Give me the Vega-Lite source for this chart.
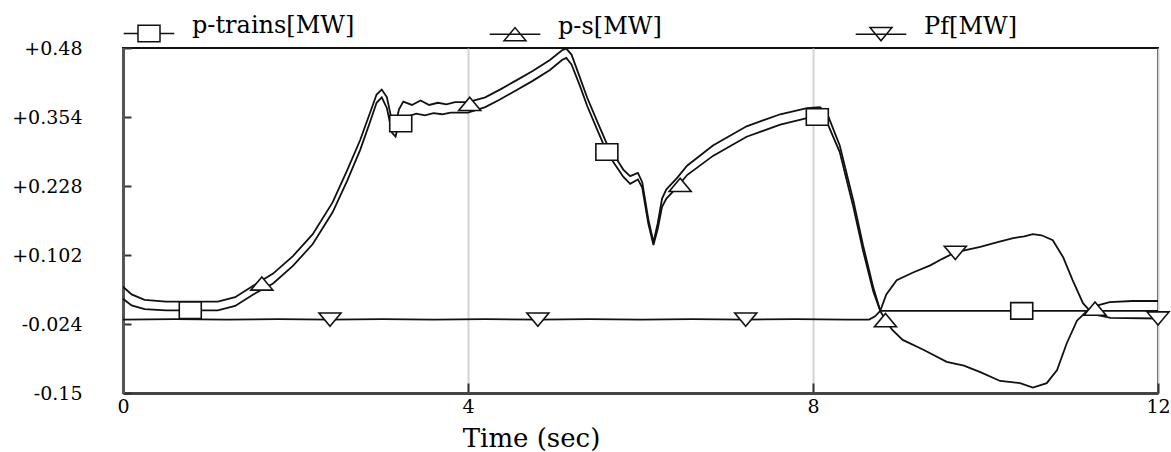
{
  "$schema": "https://vega.github.io/schema/vega-lite/v6.json",
  "width": 1035,
  "height": 345,
  "autosize": "none",
  "padding": {"left": 123, "top": 48, "right": 13, "bottom": 59},
  "background": "white",
  "config": {
    "view": {"stroke": "#111", "strokeWidth": 2},
    "axis": {"labelFont": "DejaVu Serif", "titleFont": "DejaVu Serif", "labelColor": "black", "titleColor": "black", "titleFontWeight": "normal", "gridColor": "#d4d4d4", "gridWidth": 2}
  },
  "datasets": {
    "lines": [
      {"s": "p-trains[MW]", "t": 0, "v": 0.022},
      {"s": "p-trains[MW]", "t": 0.1, "v": 0.01},
      {"s": "p-trains[MW]", "t": 0.25, "v": 0.003},
      {"s": "p-trains[MW]", "t": 0.5, "v": 0.001},
      {"s": "p-trains[MW]", "t": 1.1, "v": 0.001},
      {"s": "p-trains[MW]", "t": 1.3, "v": 0.009},
      {"s": "p-trains[MW]", "t": 1.51, "v": 0.03},
      {"s": "p-trains[MW]", "t": 1.74, "v": 0.05},
      {"s": "p-trains[MW]", "t": 1.97, "v": 0.082},
      {"s": "p-trains[MW]", "t": 2.2, "v": 0.122},
      {"s": "p-trains[MW]", "t": 2.43, "v": 0.18},
      {"s": "p-trains[MW]", "t": 2.6, "v": 0.238},
      {"s": "p-trains[MW]", "t": 2.75, "v": 0.294},
      {"s": "p-trains[MW]", "t": 2.86, "v": 0.343},
      {"s": "p-trains[MW]", "t": 2.94, "v": 0.38},
      {"s": "p-trains[MW]", "t": 3.0, "v": 0.39},
      {"s": "p-trains[MW]", "t": 3.06, "v": 0.37},
      {"s": "p-trains[MW]", "t": 3.12, "v": 0.325},
      {"s": "p-trains[MW]", "t": 3.16, "v": 0.318},
      {"s": "p-trains[MW]", "t": 3.2, "v": 0.345},
      {"s": "p-trains[MW]", "t": 3.3, "v": 0.355},
      {"s": "p-trains[MW]", "t": 3.4, "v": 0.36},
      {"s": "p-trains[MW]", "t": 3.5, "v": 0.357},
      {"s": "p-trains[MW]", "t": 3.6, "v": 0.361},
      {"s": "p-trains[MW]", "t": 3.7, "v": 0.359},
      {"s": "p-trains[MW]", "t": 3.8, "v": 0.362},
      {"s": "p-trains[MW]", "t": 4.0, "v": 0.362},
      {"s": "p-trains[MW]", "t": 4.2, "v": 0.372},
      {"s": "p-trains[MW]", "t": 4.37, "v": 0.386},
      {"s": "p-trains[MW]", "t": 4.55, "v": 0.402},
      {"s": "p-trains[MW]", "t": 4.75, "v": 0.42},
      {"s": "p-trains[MW]", "t": 4.95, "v": 0.44},
      {"s": "p-trains[MW]", "t": 5.09, "v": 0.458},
      {"s": "p-trains[MW]", "t": 5.14, "v": 0.462},
      {"s": "p-trains[MW]", "t": 5.2, "v": 0.45},
      {"s": "p-trains[MW]", "t": 5.3, "v": 0.41},
      {"s": "p-trains[MW]", "t": 5.38, "v": 0.375},
      {"s": "p-trains[MW]", "t": 5.5, "v": 0.33},
      {"s": "p-trains[MW]", "t": 5.61, "v": 0.29},
      {"s": "p-trains[MW]", "t": 5.7, "v": 0.268},
      {"s": "p-trains[MW]", "t": 5.8, "v": 0.245},
      {"s": "p-trains[MW]", "t": 5.88, "v": 0.232},
      {"s": "p-trains[MW]", "t": 5.97, "v": 0.24},
      {"s": "p-trains[MW]", "t": 6.02, "v": 0.225},
      {"s": "p-trains[MW]", "t": 6.09, "v": 0.16},
      {"s": "p-trains[MW]", "t": 6.15, "v": 0.12},
      {"s": "p-trains[MW]", "t": 6.2, "v": 0.15},
      {"s": "p-trains[MW]", "t": 6.25, "v": 0.19},
      {"s": "p-trains[MW]", "t": 6.3, "v": 0.205},
      {"s": "p-trains[MW]", "t": 6.42, "v": 0.225},
      {"s": "p-trains[MW]", "t": 6.54, "v": 0.248},
      {"s": "p-trains[MW]", "t": 6.84, "v": 0.283},
      {"s": "p-trains[MW]", "t": 7.23, "v": 0.318},
      {"s": "p-trains[MW]", "t": 7.62, "v": 0.34},
      {"s": "p-trains[MW]", "t": 7.93, "v": 0.352},
      {"s": "p-trains[MW]", "t": 8.08, "v": 0.354},
      {"s": "p-trains[MW]", "t": 8.16, "v": 0.345},
      {"s": "p-trains[MW]", "t": 8.31, "v": 0.29},
      {"s": "p-trains[MW]", "t": 8.47, "v": 0.188},
      {"s": "p-trains[MW]", "t": 8.58, "v": 0.11},
      {"s": "p-trains[MW]", "t": 8.7, "v": 0.035},
      {"s": "p-trains[MW]", "t": 8.78, "v": 0.0},
      {"s": "p-trains[MW]", "t": 10, "v": 0.0},
      {"s": "p-trains[MW]", "t": 12, "v": 0.0},

      {"s": "p-s[MW]", "t": 0, "v": 0.044},
      {"s": "p-s[MW]", "t": 0.1, "v": 0.03},
      {"s": "p-s[MW]", "t": 0.25, "v": 0.02},
      {"s": "p-s[MW]", "t": 0.5, "v": 0.017},
      {"s": "p-s[MW]", "t": 1.1, "v": 0.017},
      {"s": "p-s[MW]", "t": 1.3, "v": 0.025},
      {"s": "p-s[MW]", "t": 1.51, "v": 0.046},
      {"s": "p-s[MW]", "t": 1.74, "v": 0.068},
      {"s": "p-s[MW]", "t": 1.97, "v": 0.1},
      {"s": "p-s[MW]", "t": 2.2, "v": 0.14},
      {"s": "p-s[MW]", "t": 2.43, "v": 0.198},
      {"s": "p-s[MW]", "t": 2.6, "v": 0.257},
      {"s": "p-s[MW]", "t": 2.75, "v": 0.312},
      {"s": "p-s[MW]", "t": 2.86, "v": 0.36},
      {"s": "p-s[MW]", "t": 2.94, "v": 0.395},
      {"s": "p-s[MW]", "t": 3.0, "v": 0.404},
      {"s": "p-s[MW]", "t": 3.06, "v": 0.39},
      {"s": "p-s[MW]", "t": 3.12, "v": 0.345},
      {"s": "p-s[MW]", "t": 3.16, "v": 0.34},
      {"s": "p-s[MW]", "t": 3.2, "v": 0.368},
      {"s": "p-s[MW]", "t": 3.25, "v": 0.382},
      {"s": "p-s[MW]", "t": 3.35, "v": 0.376},
      {"s": "p-s[MW]", "t": 3.45, "v": 0.384},
      {"s": "p-s[MW]", "t": 3.55, "v": 0.376},
      {"s": "p-s[MW]", "t": 3.65, "v": 0.38},
      {"s": "p-s[MW]", "t": 3.75, "v": 0.377},
      {"s": "p-s[MW]", "t": 3.85, "v": 0.381},
      {"s": "p-s[MW]", "t": 4.0, "v": 0.381},
      {"s": "p-s[MW]", "t": 4.2, "v": 0.39},
      {"s": "p-s[MW]", "t": 4.37, "v": 0.404},
      {"s": "p-s[MW]", "t": 4.55, "v": 0.42},
      {"s": "p-s[MW]", "t": 4.75, "v": 0.438},
      {"s": "p-s[MW]", "t": 4.95, "v": 0.458},
      {"s": "p-s[MW]", "t": 5.09, "v": 0.476},
      {"s": "p-s[MW]", "t": 5.14, "v": 0.479},
      {"s": "p-s[MW]", "t": 5.2, "v": 0.468},
      {"s": "p-s[MW]", "t": 5.3, "v": 0.425},
      {"s": "p-s[MW]", "t": 5.38, "v": 0.39},
      {"s": "p-s[MW]", "t": 5.5, "v": 0.345},
      {"s": "p-s[MW]", "t": 5.61, "v": 0.305},
      {"s": "p-s[MW]", "t": 5.7, "v": 0.283},
      {"s": "p-s[MW]", "t": 5.8, "v": 0.258},
      {"s": "p-s[MW]", "t": 5.88, "v": 0.246},
      {"s": "p-s[MW]", "t": 5.97, "v": 0.252},
      {"s": "p-s[MW]", "t": 6.02, "v": 0.235},
      {"s": "p-s[MW]", "t": 6.09, "v": 0.168},
      {"s": "p-s[MW]", "t": 6.15, "v": 0.125},
      {"s": "p-s[MW]", "t": 6.2, "v": 0.16},
      {"s": "p-s[MW]", "t": 6.25, "v": 0.205},
      {"s": "p-s[MW]", "t": 6.3, "v": 0.222},
      {"s": "p-s[MW]", "t": 6.42, "v": 0.242},
      {"s": "p-s[MW]", "t": 6.54, "v": 0.265},
      {"s": "p-s[MW]", "t": 6.84, "v": 0.302},
      {"s": "p-s[MW]", "t": 7.23, "v": 0.337},
      {"s": "p-s[MW]", "t": 7.62, "v": 0.359},
      {"s": "p-s[MW]", "t": 7.93, "v": 0.37},
      {"s": "p-s[MW]", "t": 8.08, "v": 0.372},
      {"s": "p-s[MW]", "t": 8.16, "v": 0.362},
      {"s": "p-s[MW]", "t": 8.31, "v": 0.302},
      {"s": "p-s[MW]", "t": 8.47, "v": 0.2},
      {"s": "p-s[MW]", "t": 8.58, "v": 0.12},
      {"s": "p-s[MW]", "t": 8.7, "v": 0.042},
      {"s": "p-s[MW]", "t": 8.78, "v": 0.0},
      {"s": "p-s[MW]", "t": 8.84, "v": -0.017},
      {"s": "p-s[MW]", "t": 8.92, "v": -0.035},
      {"s": "p-s[MW]", "t": 9.04, "v": -0.053},
      {"s": "p-s[MW]", "t": 9.28, "v": -0.071},
      {"s": "p-s[MW]", "t": 9.55, "v": -0.093},
      {"s": "p-s[MW]", "t": 9.75, "v": -0.1},
      {"s": "p-s[MW]", "t": 9.94, "v": -0.112},
      {"s": "p-s[MW]", "t": 10.17, "v": -0.128},
      {"s": "p-s[MW]", "t": 10.4, "v": -0.132},
      {"s": "p-s[MW]", "t": 10.55, "v": -0.14},
      {"s": "p-s[MW]", "t": 10.71, "v": -0.132},
      {"s": "p-s[MW]", "t": 10.83, "v": -0.108},
      {"s": "p-s[MW]", "t": 10.94, "v": -0.06},
      {"s": "p-s[MW]", "t": 11.06, "v": -0.018},
      {"s": "p-s[MW]", "t": 11.18, "v": 0.0},
      {"s": "p-s[MW]", "t": 11.3, "v": 0.01},
      {"s": "p-s[MW]", "t": 11.44, "v": 0.016},
      {"s": "p-s[MW]", "t": 11.7, "v": 0.018},
      {"s": "p-s[MW]", "t": 12, "v": 0.018},

      {"s": "Pf[MW]", "t": 0, "v": -0.016},
      {"s": "Pf[MW]", "t": 0.6, "v": -0.015},
      {"s": "Pf[MW]", "t": 1.2, "v": -0.016},
      {"s": "Pf[MW]", "t": 1.8, "v": -0.015},
      {"s": "Pf[MW]", "t": 2.4, "v": -0.016},
      {"s": "Pf[MW]", "t": 3.0, "v": -0.015},
      {"s": "Pf[MW]", "t": 3.6, "v": -0.016},
      {"s": "Pf[MW]", "t": 4.2, "v": -0.015},
      {"s": "Pf[MW]", "t": 4.81, "v": -0.016},
      {"s": "Pf[MW]", "t": 5.4, "v": -0.015},
      {"s": "Pf[MW]", "t": 6.0, "v": -0.016},
      {"s": "Pf[MW]", "t": 6.6, "v": -0.015},
      {"s": "Pf[MW]", "t": 7.22, "v": -0.016},
      {"s": "Pf[MW]", "t": 7.8, "v": -0.015},
      {"s": "Pf[MW]", "t": 8.4, "v": -0.016},
      {"s": "Pf[MW]", "t": 8.65, "v": -0.016},
      {"s": "Pf[MW]", "t": 8.72, "v": -0.01},
      {"s": "Pf[MW]", "t": 8.78, "v": 0.0},
      {"s": "Pf[MW]", "t": 8.85, "v": 0.03},
      {"s": "Pf[MW]", "t": 8.97, "v": 0.056},
      {"s": "Pf[MW]", "t": 9.16, "v": 0.07},
      {"s": "Pf[MW]", "t": 9.36, "v": 0.083},
      {"s": "Pf[MW]", "t": 9.5, "v": 0.095},
      {"s": "Pf[MW]", "t": 9.65, "v": 0.107},
      {"s": "Pf[MW]", "t": 9.94, "v": 0.117},
      {"s": "Pf[MW]", "t": 10.13, "v": 0.125},
      {"s": "Pf[MW]", "t": 10.32, "v": 0.133},
      {"s": "Pf[MW]", "t": 10.45, "v": 0.136},
      {"s": "Pf[MW]", "t": 10.55, "v": 0.14},
      {"s": "Pf[MW]", "t": 10.65, "v": 0.138},
      {"s": "Pf[MW]", "t": 10.78, "v": 0.129},
      {"s": "Pf[MW]", "t": 10.9, "v": 0.098},
      {"s": "Pf[MW]", "t": 11.01, "v": 0.056},
      {"s": "Pf[MW]", "t": 11.13, "v": 0.014},
      {"s": "Pf[MW]", "t": 11.21, "v": 0.0},
      {"s": "Pf[MW]", "t": 11.3, "v": -0.008},
      {"s": "Pf[MW]", "t": 11.45, "v": -0.013},
      {"s": "Pf[MW]", "t": 12, "v": -0.014}
    ],
    "markers": [
      {"s": "p-trains[MW]", "t": 0.78, "v": 0.001},
      {"s": "p-trains[MW]", "t": 3.22, "v": 0.342},
      {"s": "p-trains[MW]", "t": 5.61, "v": 0.29},
      {"s": "p-trains[MW]", "t": 8.05, "v": 0.354},
      {"s": "p-trains[MW]", "t": 10.42, "v": 0.0},
      {"s": "p-s[MW]", "t": 1.61, "v": 0.05},
      {"s": "p-s[MW]", "t": 4.02, "v": 0.378},
      {"s": "p-s[MW]", "t": 6.46, "v": 0.23},
      {"s": "p-s[MW]", "t": 8.84, "v": -0.017},
      {"s": "p-s[MW]", "t": 11.27, "v": 0.004},
      {"s": "Pf[MW]", "t": 2.4, "v": -0.016},
      {"s": "Pf[MW]", "t": 4.81, "v": -0.016},
      {"s": "Pf[MW]", "t": 7.22, "v": -0.016},
      {"s": "Pf[MW]", "t": 9.65, "v": 0.106},
      {"s": "Pf[MW]", "t": 12, "v": -0.014}
    ]
  },
  "layer": [
    {
      "mark": {"type": "rule", "color": "#666", "strokeWidth": 3.5},
      "encoding": {"y": {"datum": 0, "type": "quantitative", "scale": {"domain": [-0.15, 0.48], "nice": false, "zero": false}}}
    },
    {
      "data": {"name": "lines"},
      "mark": {"type": "line", "color": "#111", "strokeWidth": 1.8, "clip": true},
      "encoding": {
        "x": {"field": "t", "type": "quantitative", "scale": {"domain": [0, 12], "nice": false}, "axis": {"values": [0, 4, 8, 12], "format": "d", "title": "Time (sec)", "titleFontSize": 26, "titleX": 408, "titleY": 53, "titleBaseline": "alphabetic", "labelFontSize": 19, "labelPadding": 14, "tickSize": -10, "tickColor": "#333", "tickWidth": 2, "domainColor": "#444", "domainWidth": 3, "labelFlush": false}},
        "y": {"field": "v", "type": "quantitative", "scale": {"domain": [-0.15, 0.48], "nice": false, "zero": false}, "axis": {"values": [-0.15, -0.024, 0.102, 0.228, 0.354, 0.48], "labelExpr": "(datum.value > 0 ? '+' : '') + toString(datum.value)", "title": null, "labelFontSize": 19, "labelPadding": 49, "tickSize": -8, "tickColor": "#333", "tickWidth": 2, "domainColor": "#555", "domainWidth": 3}},
        "detail": {"field": "s"}
      }
    },
    {
      "data": {"name": "markers"},
      "mark": {"type": "point", "filled": true, "fill": "white", "stroke": "#111", "strokeWidth": 1.6, "size": 484, "opacity": 1},
      "encoding": {
        "x": {"field": "t", "type": "quantitative"},
        "y": {"field": "v", "type": "quantitative"},
        "shape": {"field": "s", "type": "nominal", "legend": null, "scale": {"domain": ["p-trains[MW]", "p-s[MW]", "Pf[MW]"], "range": ["M-1,-0.75L1,-0.75L1,0.75L-1,0.75Z", "M-1,0.6L1,0.6L0,-0.6Z", "M-1,-0.6L1,-0.6L0,0.6Z"]}}
      }
    },
    {
      "data": {"name": "markers"},
      "transform": [{"filter": "datum.t > 100"}],
      "mark": {"type": "point", "filled": false, "color": "#111", "strokeWidth": 1.6, "size": 484, "opacity": 1},
      "encoding": {
        "x": {"field": "t", "type": "quantitative"},
        "y": {"field": "v", "type": "quantitative"},
        "shape": {"field": "s", "type": "nominal", "scale": {"domain": ["p-trains[MW]", "p-s[MW]", "Pf[MW]"], "range": ["M-2.3,0L-1,0M1,0L2.3,0M-1,-0.75L1,-0.75L1,0.75L-1,0.75Z", "M-2.3,0L2.3,0M-1,0.6L1,0.6L0,-0.6Z", "M-2.3,0L2.3,0M-1,-0.6L1,-0.6L0,0.6Z"]},
          "legend": {"orient": "none", "legendX": 14, "legendY": -27, "direction": "horizontal", "columns": 3, "gridAlign": "all", "columnPadding": 131, "title": null, "labelFont": "DejaVu Serif", "labelFontSize": 24, "labelColor": "black", "labelBaseline": "alphabetic", "labelOffset": 31, "labelLimit": 400, "symbolSize": 484, "symbolStrokeWidth": 1.5, "symbolStrokeColor": "#111", "symbolOpacity": 1}}
      }
    }
  ],
  "resolve": {"scale": {"shape": "independent"}}
}
